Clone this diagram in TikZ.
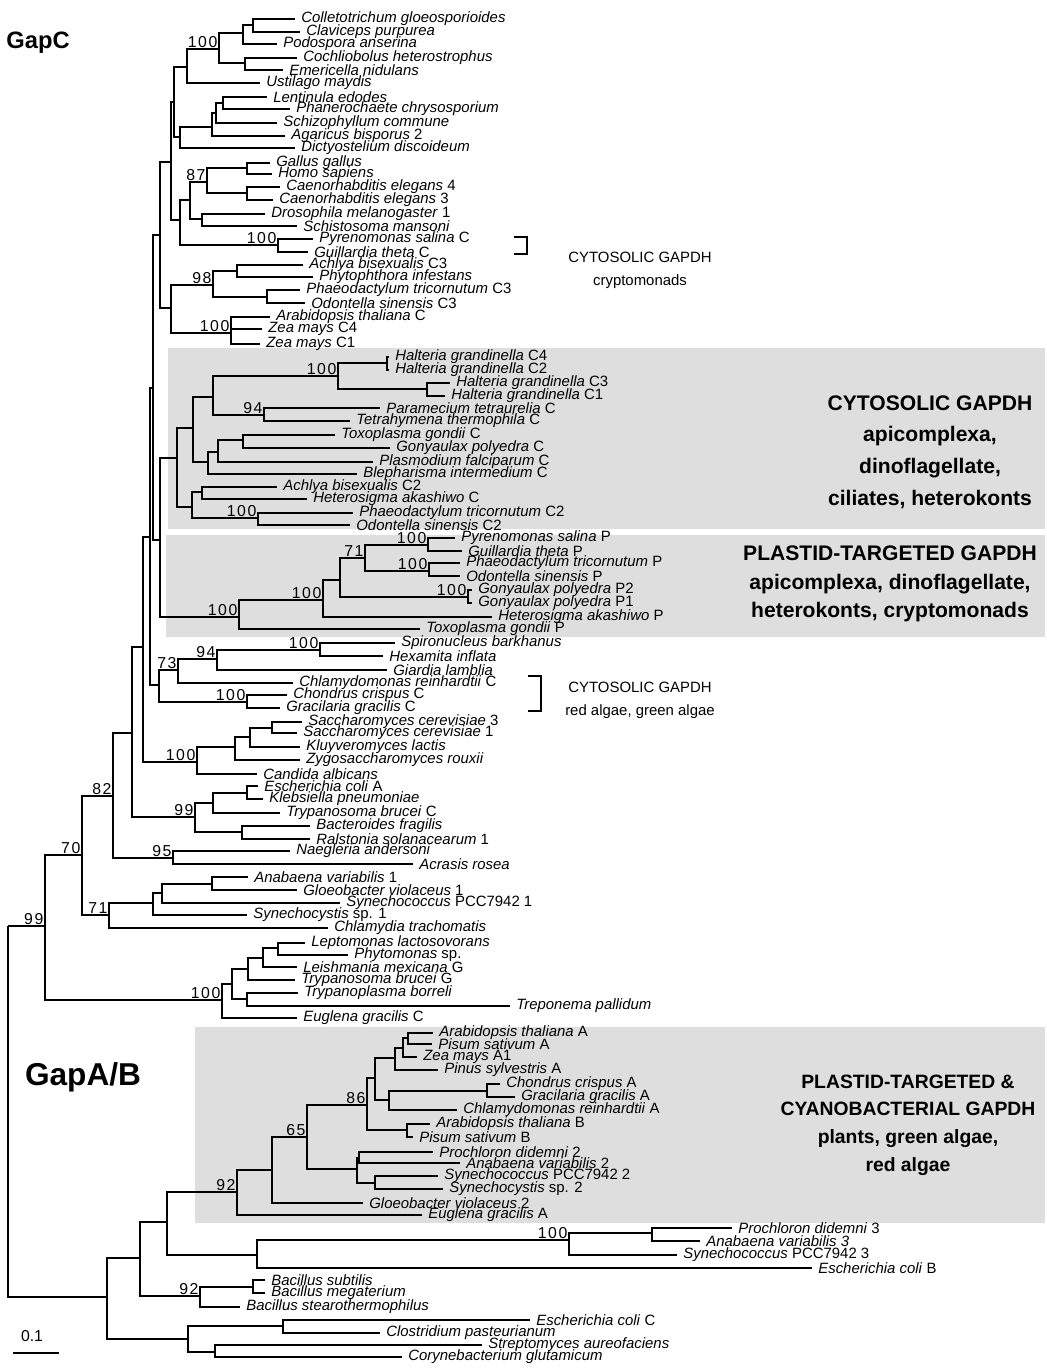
\documentclass[tikz,border=0pt]{standalone}
\usepackage{fontspec}
\setmainfont{Liberation Sans}
\newfontfamily\bootfont[LetterSpace=10]{Liberation Sans}
\usetikzlibrary{positioning}

\tikzset{
    leaf/.style={anchor=west, inner xsep=3.4pt, inner ysep=0pt, font=\fontsize{8.5}{8.5}\selectfont},
    boot/.style={anchor=south east, inner sep=0.7pt, font=\bootfont\fontsize{9}{9}\selectfont},
    branch/.style={line width=1pt},
    clade/.style={fill=black!13, draw=none},
    group/.style={align=center, font=\bfseries\fontsize{12}{18}\selectfont},
    note/.style={align=center, font=\fontsize{8.5}{13}\selectfont},
    genus/.style={font=\bfseries\fontsize{#1}{#1}\selectfont}
}

\begin{document}
\begin{tikzpicture}[x=0.02cm, y=-0.02cm]
    \useasboundingbox (0,0) rectangle (1047,1370);

    % Shaded clades
    \fill[clade] (168,348) rectangle (1045,529);
    \fill[clade] (166,535) rectangle (1045,637);
    \fill[clade] (195,1027) rectangle (1045,1223);

    % Leaves: tip x, row y, name
    \foreach \n/\x/\y/\t in {
        cg/295/19/{\textit{Colletotrichum gloeosporioides}},
        cp/300/32/{\textit{Claviceps purpurea}},
        pa/277/44/{\textit{Podospora anserina}},
        ch/297/58/{\textit{Cochliobolus heterostrophus}},
        en/283/70/{\textit{Emericella nidulans}},
        um/260/83/{\textit{Ustilago maydis}},
        le/267/97/{\textit{Lentinula edodes}},
        pc/290/109/{\textit{Phanerochaete chrysosporium}},
        sc/277/123/{\textit{Schizophyllum commune}},
        ab/285/136/{\textit{Agaricus bisporus} 2},
        dd/295/148/{\textit{Dictyostelium discoideum}},
        gg/270/163/{\textit{Gallus gallus}},
        hs/272/174/{\textit{Homo sapiens}},
        ce4/280/187/{\textit{Caenorhabditis elegans} 4},
        ce3/273/200/{\textit{Caenorhabditis elegans} 3},
        dm/265/214/{\textit{Drosophila melanogaster} 1},
        smn/297/226/{\textit{Schistosoma mansoni}},
        psC/313/239/{\textit{Pyrenomonas salina} C},
        gtC/308/252/{\textit{Guillardia theta} C},
        abC3/303/265/{\textit{Achlya bisexualis} C3},
        phi/313/277/{\textit{Phytophthora infestans}},
        ptC3/300/290/{\textit{Phaeodactylum tricornutum} C3},
        osC3/305/303/{\textit{Odontella sinensis} C3},
        atC/270/317/{\textit{Arabidopsis thaliana} C},
        zmC4/262/329/{\textit{Zea mays} C4},
        zmC1/260/344/{\textit{Zea mays} C1},
        hgC4/389/357/{\textit{Halteria grandinella} C4},
        hgC2/389/370/{\textit{Halteria grandinella} C2},
        hgC3/450/383/{\textit{Halteria grandinella} C3},
        hgC1/445/396/{\textit{Halteria grandinella} C1},
        ptet/380/408/{\textit{Paramecium tetraurelia} C},
        tth/350/421/{\textit{Tetrahymena thermophila} C},
        tgC/335/435/{\textit{Toxoplasma gondii} C},
        gpC/390/448/{\textit{Gonyaulax polyedra} C},
        pf/373/462/{\textit{Plasmodium falciparum} C},
        bi/357/474/{\textit{Blepharisma intermedium} C},
        abC2/277/487/{\textit{Achlya bisexualis} C2},
        haC/307/499/{\textit{Heterosigma akashiwo} C},
        ptC2/353/513/{\textit{Phaeodactylum tricornutum} C2},
        osC2/350/525/{\textit{Odontella sinensis} C2},
        psP/455/538/{\textit{Pyrenomonas salina} P},
        gtP/462/551/{\textit{Guillardia theta} P},
        ptP/460/563/{\textit{Phaeodactylum tricornutum} P},
        osP/460/576/{\textit{Odontella sinensis} P},
        gpP2/472/590/{\textit{Gonyaulax polyedra} P2},
        gpP1/472/603/{\textit{Gonyaulax polyedra} P1},
        haP/492/617/{\textit{Heterosigma akashiwo} P},
        tgP/420/629/{\textit{Toxoplasma gondii} P},
        sba/395/643/{\textit{Spironucleus barkhanus}},
        hin/383/656/{\textit{Hexamita inflata}},
        gla/387/670/{\textit{Giardia lamblia}},
        crC/293/683/{\textit{Chlamydomonas reinhardtii} C},
        ccC/287/695/{\textit{Chondrus crispus} C},
        ggC/280/708/{\textit{Gracilaria gracilis} C},
        sc3/302/722/{\textit{Saccharomyces cerevisiae} 3},
        sc1/297/733/{\textit{Saccharomyces cerevisiae} 1},
        kla/300/747/{\textit{Kluyveromyces lactis}},
        zro/300/760/{\textit{Zygosaccharomyces rouxii}},
        cal/257/774/{\textit{Candida albicans}},
        ecA/258/786/{\textit{Escherichia coli} A},
        kpn/263/799/{\textit{Klebsiella pneumoniae}},
        tbC/280/813/{\textit{Trypanosoma brucei} C},
        bfr/310/826/{\textit{Bacteroides fragilis}},
        rso/310/839/{\textit{Ralstonia solanacearum} 1},
        nan/290/851/{\textit{Naegleria andersoni}},
        aro/413/864/{\textit{Acrasis rosea}},
        av1/248/877/{\textit{Anabaena variabilis} 1},
        gv1/297/890/{\textit{Gloeobacter violaceus} 1},
        syn1/340/903/{\textit{Synechococcus} PCC7942 1},
        scy1/247/915/{\textit{Synechocystis} sp. 1},
        ctr/328/928/{\textit{Chlamydia trachomatis}},
        lla/305/943/{\textit{Leptomonas lactosovorans}},
        phy/348/955/{\textit{Phytomonas} sp.},
        lme/297/967/{\textit{Leishmania mexicana} G},
        tbG/295/980/{\textit{Trypanosoma brucei} G},
        tbo/298/993/{\textit{Trypanoplasma borreli}},
        tpa/510/1006/{\textit{Treponema pallidum}},
        egC/297/1018/{\textit{Euglena gracilis} C},
        atA/433/1033/{\textit{Arabidopsis thaliana} A},
        psA/432/1044/{\textit{Pisum sativum} A},
        zmA1/417/1057/{\textit{Zea mays} A1},
        pinA/438/1070/{\textit{Pinus sylvestris} A},
        ccA/500/1084/{\textit{Chondrus crispus} A},
        ggA/515/1097/{\textit{Gracilaria gracilis} A},
        crA/457/1110/{\textit{Chlamydomonas reinhardtii} A},
        atB/430/1124/{\textit{Arabidopsis thaliana} B},
        psB/413/1137/{\textit{Pisum sativum} B},
        pd2/433/1152/{\textit{Prochloron didemni} 2},
        av2/460/1163/{\textit{Anabaena variabilis} 2},
        syn2/438/1176/{\textit{Synechococcus} PCC7942 2},
        scy2/443/1189/{\textit{Synechocystis} sp. 2},
        gv2/363/1203/{\textit{Gloeobacter violaceus} 2},
        egA/422/1215/{\textit{Euglena gracilis} A},
        pd3/732/1228/{\textit{Prochloron didemni} 3},
        av3/700/1241/{\textit{Anabaena variabilis 3}},
        syn3/677/1255/{\textit{Synechococcus} PCC7942 3},
        ecB/812/1268/{\textit{Escherichia coli} B},
        bsu/265/1280/{\textit{Bacillus subtilis}},
        bme/265/1293/{\textit{Bacillus megaterium}},
        bst/240/1307/{\textit{Bacillus stearothermophilus}},
        ecC/530/1320/{\textit{Escherichia coli} C},
        cpa/380/1333/{\textit{Clostridium pasteurianum}},
        sau/482/1345/{\textit{Streptomyces aureofaciens}},
        cgl/402/1357/{\textit{Corynebacterium glutamicum}}} {
        \coordinate (\n) at (\x,\y);
        \node[leaf] (\n-t) at (\n) {\t};
    }

    % Internal nodes: x of the fork, y where the branch comes in
    \foreach \n/\x/\y in {
        a1/253/25, a2/243/33, a3/245/63, a4/219/49, a5/187/67,
        b1/223/103, b2/216/113, b3/212/127, b4/180/137, a6/174/102,
        ani1/247/168, ani2/247/193, ani/207/182, ds/202/219, d1/190/200,
        pg/278/245, d2/180/220, c1/171/162,
        ap/237/271, po/267/297, oom/213/285, zm/231/333, e1/171/308, f1/160/235,
        hal1/387/363, hal2/427/389, hal/338/376, cil94/264/415, cil/213/397,
        tg/243/440, apx1/218/452, apx/208/462, cilapx/193/428,
        het1/202/492, het2/258/518, het/192/507, cyt/177/458,
        pl1/428/545, pl2/429/571, pl71/365/558, gon/468/597,
        pl3/340/580, pl4/323/600, pl/239/617, h/160/540, g1/153/388,
        sh/320/650, dip/217/659, n73/178/670, rdC/247/702, rg/159/685, i/150/537,
        s1/272/728, s2/250/737, s3/235/747, yst/197/762, j/143/647,
        ek/247/793, ekt/213/803, br/242/832, ent/195/817, k/132/733,
        n95/173/858, n82/113/796,
        ag/212/884, cy1/162/893, cy2/153/903, n71/109/915, n70/82/855,
        tr1/278/948, tr2/263/958, tr3/248/969, tt2/247/999, tr4/232/984,
        tr/222/1000, n99/45/926,
        pa1/408/1038, pa2/403/1048, pa3/395/1058, rdA/487/1091, pa4/389/1100,
        pa5/375/1078, ab2/407/1130, n86/367/1105,
        cb1/359/1158, cb2/375/1183, cb3/357/1169, n65/307/1137,
        gb/272/1170, n92/237/1192,
        c3a/652/1233, c3/569/1240, ecb/257/1255, m1/167/1222,
        bac1/253/1287, bac/200/1296, m2/140/1258,
        ot1/283/1326, ot2/215/1352, ot/188/1339, m3/107/1297,
        root/8/926} {
        \coordinate (\n) at (\x,\y);
    }

    % Branches (parent/child)
    \foreach \p/\c in {
        a1/cg, a1/cp, a2/a1, a2/pa, a3/ch, a3/en, a4/a2, a4/a3, a5/a4, a5/um,
        b1/le, b1/pc, b2/b1, b2/sc, b3/b2, b3/ab, b4/b3, b4/dd, a6/a5, a6/b4,
        ani1/gg, ani1/hs, ani2/ce4, ani2/ce3, ani/ani1, ani/ani2,
        ds/dm, ds/smn, d1/ani, d1/ds, pg/psC, pg/gtC, d2/d1, d2/pg,
        c1/a6, c1/d2,
        ap/abC3, ap/phi, po/ptC3, po/osC3, oom/ap, oom/po,
        zm/atC, zm/zmC4, zm/zmC1, e1/oom, e1/zm, f1/c1, f1/e1,
        hal1/hgC4, hal1/hgC2, hal2/hgC3, hal2/hgC1, hal/hal1, hal/hal2,
        cil94/ptet, cil94/tth, cil/hal, cil/cil94,
        tg/tgC, tg/gpC, apx1/tg, apx1/pf, apx/apx1, apx/bi, cilapx/cil, cilapx/apx,
        het1/abC2, het1/haC, het2/ptC2, het2/osC2, het/het1, het/het2,
        cyt/cilapx, cyt/het,
        pl1/psP, pl1/gtP, pl2/ptP, pl2/osP, pl71/pl1, pl71/pl2,
        gon/gpP2, gon/gpP1, pl3/pl71, pl3/gon, pl4/pl3, pl4/haP, pl/pl4, pl/tgP,
        h/cyt, h/pl, g1/f1, g1/h,
        sh/sba, sh/hin, dip/sh, dip/gla, n73/dip, n73/crC,
        rdC/ccC, rdC/ggC, rg/n73, rg/rdC, i/g1, i/rg,
        s1/sc3, s1/sc1, s2/s1, s2/kla, s3/s2, s3/zro, yst/s3, yst/cal, j/i, j/yst,
        ek/ecA, ek/kpn, ekt/ek, ekt/tbC, br/bfr, br/rso, ent/ekt, ent/br,
        k/j, k/ent, n95/nan, n95/aro, n82/k, n82/n95,
        ag/av1, ag/gv1, cy1/ag, cy1/syn1, cy2/cy1, cy2/scy1, n71/cy2, n71/ctr,
        n70/n82, n70/n71,
        tr1/lla, tr1/phy, tr2/tr1, tr2/lme, tr3/tr2, tr3/tbG,
        tt2/tbo, tt2/tpa, tr4/tr3, tr4/tt2, tr/tr4, tr/egC, n99/n70, n99/tr,
        pa1/atA, pa1/psA, pa2/pa1, pa2/zmA1, pa3/pa2, pa3/pinA,
        rdA/ccA, rdA/ggA, pa4/rdA, pa4/crA, pa5/pa3, pa5/pa4,
        ab2/atB, ab2/psB, n86/pa5, n86/ab2,
        cb1/pd2, cb1/av2, cb2/syn2, cb2/scy2, cb3/cb1, cb3/cb2,
        n65/n86, n65/cb3, gb/n65, gb/gv2, n92/gb, n92/egA,
        c3a/pd3, c3a/av3, c3/c3a, c3/syn3, ecb/c3, ecb/ecB, m1/n92, m1/ecb,
        bac1/bsu, bac1/bme, bac/bac1, bac/bst, m2/m1, m2/bac,
        ot1/ecC, ot1/cpa, ot2/sau, ot2/cgl, ot/ot1, ot/ot2, m3/m2, m3/ot,
        root/n99, root/m3} {
        \draw[branch] (\p) |- (\c);
    }

    % Bootstrap values
    \foreach \n/\b in {
        a4/100, ani/87, pg/100, oom/98, zm/100,
        hal/100, cil94/94, het2/100,
        pl1/100, pl2/100, pl71/71, gon/100, pl4/100, pl/100,
        sh/100, dip/94, n73/73, rdC/100, yst/100, ent/99, n95/95, n82/82,
        n71/71, n70/70, tr/100, n99/99,
        n86/86, n65/65, n92/92, c3/100, bac/92} {
        \node[boot] (\n-b) at (\n) {\b};
    }

    % Brackets
    \coordinate (k1a) at (514,237);
    \coordinate (k1b) at (514,254);
    \draw[line width=0.9pt] (k1a) -| (527,245.5) |- (k1b);
    \coordinate (k2a) at (528,676);
    \coordinate (k2b) at (528,711);
    \draw[line width=0.9pt] (k2a) -| (541,693.5) |- (k2b);

    % Group labels
    \node[note] (crypto) at (640,270) {CYTOSOLIC GAPDH\\cryptomonads};
    \node[note] (redgreen) at (640,700) {CYTOSOLIC GAPDH\\red algae, green algae};
    \node[group] (cytlab) at (930,452) {CYTOSOLIC GAPDH\\apicomplexa,\\dinoflagellate,\\ciliates, heterokonts};
    \node[group, font=\bfseries\fontsize{12}{16.2}\selectfont] (plalab) at (890,584)
        {PLASTID-TARGETED GAPDH\\apicomplexa, dinoflagellate,\\heterokonts, cryptomonads};
    \node[group, font=\bfseries\fontsize{11}{15.7}\selectfont] (cyalab) at (908,1125)
        {PLASTID-TARGETED \&\\CYANOBACTERIAL GAPDH\\plants, green algae,\\red algae};

    % Gene names
    \node[genus=13.5] (gapc) at (38,43) {GapC};
    \node[genus=18] (gapab) at (83,1077) {GapA/B};

    % Scale bar
    \coordinate (bar0) at (13,1353);
    \coordinate (bar1) at (59,1353);
    \draw[line width=0.8pt] (bar0) -- (bar1);
    \node[font=\fontsize{9}{9}\selectfont] (barlab) at (32,1336) {0.1};
\end{tikzpicture}
\end{document}
